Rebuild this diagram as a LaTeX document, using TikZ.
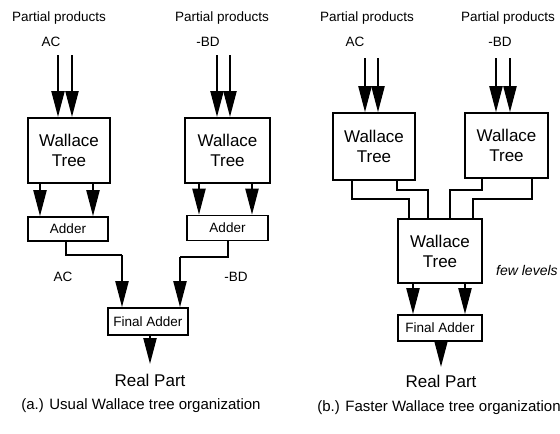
\documentclass[tikz,border=0pt]{standalone}
\usepackage{fontspec}
\setmainfont{Liberation Sans}
\usetikzlibrary{arrows.meta}
\begin{document}
\begin{tikzpicture}[x=1pt,y=-1pt,
  blk/.style={draw,line width=2pt,inner sep=0pt,align=center},
  wt/.style={blk,font=\fontsize{17}{20}\selectfont},
  addbox/.style={blk,line width=1.6pt,font=\fontsize{13.5}{15}\selectfont},
  lbl/.style={inner sep=0pt,font=\fontsize{13.5}{15}\selectfont},
  sig/.style={inner sep=0pt,font=\fontsize{13.5}{15}\selectfont},
  big/.style={inner sep=0pt,font=\fontsize{17}{19}\selectfont},
  captxt/.style={inner sep=0pt,font=\fontsize{15}{17}\selectfont},
  arr/.style={line width=2.2pt,-{Triangle[length=26pt,width=13pt]}},
  wire/.style={line width=1.6pt},
]
\useasboundingbox (0,0) rectangle (560,434);

% ---------- panel (a) ----------
\node[lbl] (ppa1) at (59,18) {Partial products};
\node[sig] (aca) at (51,42) {AC};
\node[lbl] (ppa2) at (222,18) {Partial products};
\node[sig] (bda) at (208,42) {-BD};

\node[wt,minimum width=82pt,minimum height=65pt] (wa1) at (69,150.5) {Wallace\\Tree};
\node[wt,minimum width=85pt,minimum height=65pt] (wa2) at (227.5,150.5) {Wallace\\Tree};
\node[addbox,minimum width=80pt,minimum height=24pt] (a1) at (68,229) {Adder};
\node[addbox,minimum width=81pt,minimum height=25pt] (a2) at (227.5,228) {Adder};
\node[addbox,minimum width=80pt,minimum height=27pt] (fa) at (148,321.5) {Final Adder};

\coordinate (ia1) at (58,55);
\coordinate (ia2) at (72,55);
\coordinate (ia3) at (217,55);
\coordinate (ia4) at (230,55);
\draw[arr] (ia1) -- (ia1 |- wa1.north);
\draw[arr] (ia2) -- (ia2 |- wa1.north);
\draw[arr] (ia3) -- (ia3 |- wa2.north);
\draw[arr] (ia4) -- (ia4 |- wa2.north);

\coordinate (xa1) at (40,0);
\coordinate (xa2) at (93,0);
\coordinate (xa3) at (199,0);
\coordinate (xa4) at (252,0);
\draw[arr] (xa1 |- wa1.south) -- (xa1 |- a1.north);
\draw[arr] (xa2 |- wa1.south) -- (xa2 |- a1.north);
\draw[arr] (xa3 |- wa2.south) -- (xa3 |- a2.north);
\draw[arr] (xa4 |- wa2.south) -- (xa4 |- a2.north);

\coordinate (ka1) at (66,255);
\coordinate (ka2) at (122,255);
\coordinate (kb1) at (228,257);
\coordinate (kb2) at (180,257);
\draw[wire] (ka1 |- a1.south) -- (ka1) -- (ka2);
\draw[arr] (ka2) -- (ka2 |- fa.north);
\draw[wire] (kb1 |- a2.south) -- (kb1) -- (kb2);
\draw[arr] (kb2) -- (kb2 |- fa.north);

\node[sig] (laca) at (63,277) {AC};
\node[sig] (lbda) at (236,277) {-BD};

\coordinate (oa) at (150,364);
\draw[arr] (oa |- fa.south) -- (oa);
\node[big] (rpa) at (150,380) {Real Part};
\node[captxt] (capa) at (141,406) {(a.) Usual Wallace tree organization};

% ---------- panel (b) ----------
\node[lbl] (ppb1) at (367,18) {Partial products};
\node[sig] (acb) at (355,42) {AC};
\node[lbl] (ppb2) at (508,18) {Partial products};
\node[sig] (bdb) at (500,42) {-BD};

\node[wt,line width=1.6pt,minimum width=82pt,minimum height=67pt] (wb1) at (374,146.5) {Wallace\\Tree};
\node[wt,line width=1.6pt,minimum width=83pt,minimum height=65pt] (wb2) at (506.5,145.5) {Wallace\\Tree};
\node[wt,line width=1.6pt,minimum width=84pt,minimum height=64pt] (wb3) at (440,251) {Wallace\\Tree};
\node[addbox,minimum width=84pt,minimum height=26pt] (fb) at (440,328) {Final Adder};

\coordinate (ib1) at (365,58);
\coordinate (ib2) at (378,58);
\coordinate (ib3) at (496,58);
\coordinate (ib4) at (510,58);
\draw[arr] (ib1) -- (ib1 |- wb1.north);
\draw[arr] (ib2) -- (ib2 |- wb1.north);
\draw[arr] (ib3) -- (ib3 |- wb2.north);
\draw[arr] (ib4) -- (ib4 |- wb2.north);

\coordinate (l1a) at (352,199);
\coordinate (l1b) at (409,199);
\coordinate (l2a) at (397,190);
\coordinate (l2b) at (428,190);
\coordinate (r1a) at (482,190);
\coordinate (r1b) at (450,190);
\coordinate (r2a) at (532,199);
\coordinate (r2b) at (473,199);
\draw[wire] (l1a |- wb1.south) -- (l1a) -- (l1b) -- (l1b |- wb3.north);
\draw[wire] (l2a |- wb1.south) -- (l2a) -- (l2b) -- (l2b |- wb3.north);
\draw[wire] (r1a |- wb2.south) -- (r1a) -- (r1b) -- (r1b |- wb3.north);
\draw[wire] (r2a |- wb2.south) -- (r2a) -- (r2b) -- (r2b |- wb3.north);

\node[lbl,anchor=west,font=\fontsize{14}{16}\selectfont\itshape] (few) at (496,270) {few levels};

\coordinate (xb1) at (413,0);
\coordinate (xb2) at (465,0);
\draw[arr] (xb1 |- wb3.south) -- (xb1 |- fb.north);
\draw[arr] (xb2 |- wb3.south) -- (xb2 |- fb.north);

\coordinate (ob) at (441,367);
\draw[arr] (ob |- fb.south) -- (ob);
\node[big] (rpb) at (441,381) {Real Part};
\node[captxt] (capb) at (439,408) {(b.) Faster Wallace tree organization};
\end{tikzpicture}
\end{document}
